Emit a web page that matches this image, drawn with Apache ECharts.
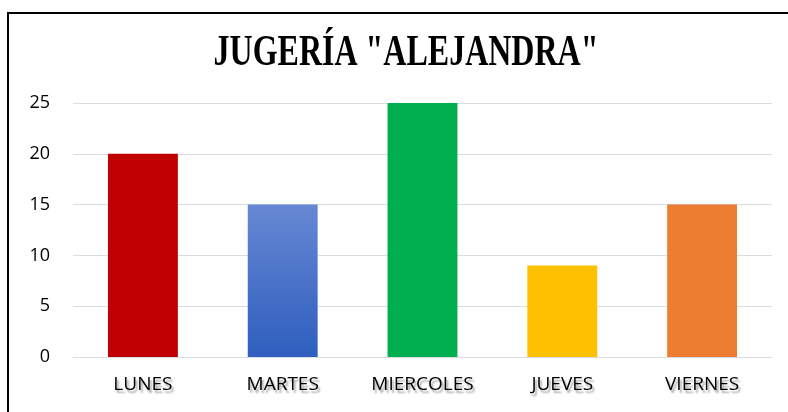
<!DOCTYPE html>
<html>
<head>
<meta charset="utf-8">
<script src="https://cdn.jsdelivr.net/npm/echarts@6/dist/echarts.min.js"></script>
<style>
  html, body { margin: 0; padding: 0; background: #fff; }
  #wrap { position: relative; width: 788px; height: 412px; overflow: hidden; }
  #frame { position: absolute; left: 7px; top: 12px; width: 900px; height: 500px; border: 2px solid #000; box-sizing: border-box; }
  #chart { position: absolute; left: 0; top: 0; width: 788px; height: 412px; }
</style>
</head>
<body>
<div id="wrap">
  <div id="frame"></div>
  <div id="chart"></div>
</div>
<script>
const titleText = 'JUGERÍA "ALEJANDRA"';
const days = ['LUNES', 'MARTES', 'MIERCOLES', 'JUEVES', 'VIERNES'];
const sales = [20, 15, 25, 9, 15];
const barColors = [
  '#C00000',
  { type: 'linear', x: 0, y: 0, x2: 0, y2: 1, colorStops: [
      { offset: 0, color: '#6788D3' }, { offset: 1, color: '#2E5EBE' }] },
  '#00B050',
  '#FFC000',
  '#ED7D31'
];
const yTicks = { min: 0, max: 25, step: 5 };

const chart = echarts.init(document.getElementById('chart'), null, { renderer: 'canvas' });
chart.setOption({
  backgroundColor: 'transparent',
  animation: false,
  graphic: [{
    type: 'text',
    x: 406,
    y: 54,
    scaleY: 1.38,
    style: {
      text: titleText,
      font: 'bold 32px "Liberation Serif", "Times New Roman", serif',
      fill: '#000',
      textAlign: 'center',
      textVerticalAlign: 'middle'
    }
  }],
  grid: { left: 73, right: 16, top: 103, bottom: 55 },
  xAxis: {
    type: 'category',
    data: days,
    axisLine: { show: true, lineStyle: { color: '#D9DDE3', width: 1 } },
    axisTick: { show: false },
    axisLabel: {
      margin: 18,
      color: '#000',
      fontSize: 19,
      fontFamily: '"Open Sans", "Noto Sans", sans-serif',
      textShadowColor: 'rgba(0,0,0,0.35)',
      textShadowBlur: 2,
      textShadowOffsetX: 2,
      textShadowOffsetY: 3
    }
  },
  yAxis: {
    type: 'value',
    min: yTicks.min,
    max: yTicks.max,
    interval: yTicks.step,
    axisLine: { show: false },
    axisTick: { show: false },
    splitLine: { lineStyle: { color: '#D9DDE3', width: 1 } },
    axisLabel: {
      margin: 23,
      color: '#000',
      fontSize: 18,
      fontFamily: '"Open Sans", "Noto Sans", sans-serif'
    }
  },
  series: [{
    type: 'bar',
    barWidth: '50%',
    data: sales.map((v, i) => ({ value: v, itemStyle: { color: barColors[i] } }))
  }]
});
</script>
</body>
</html>
